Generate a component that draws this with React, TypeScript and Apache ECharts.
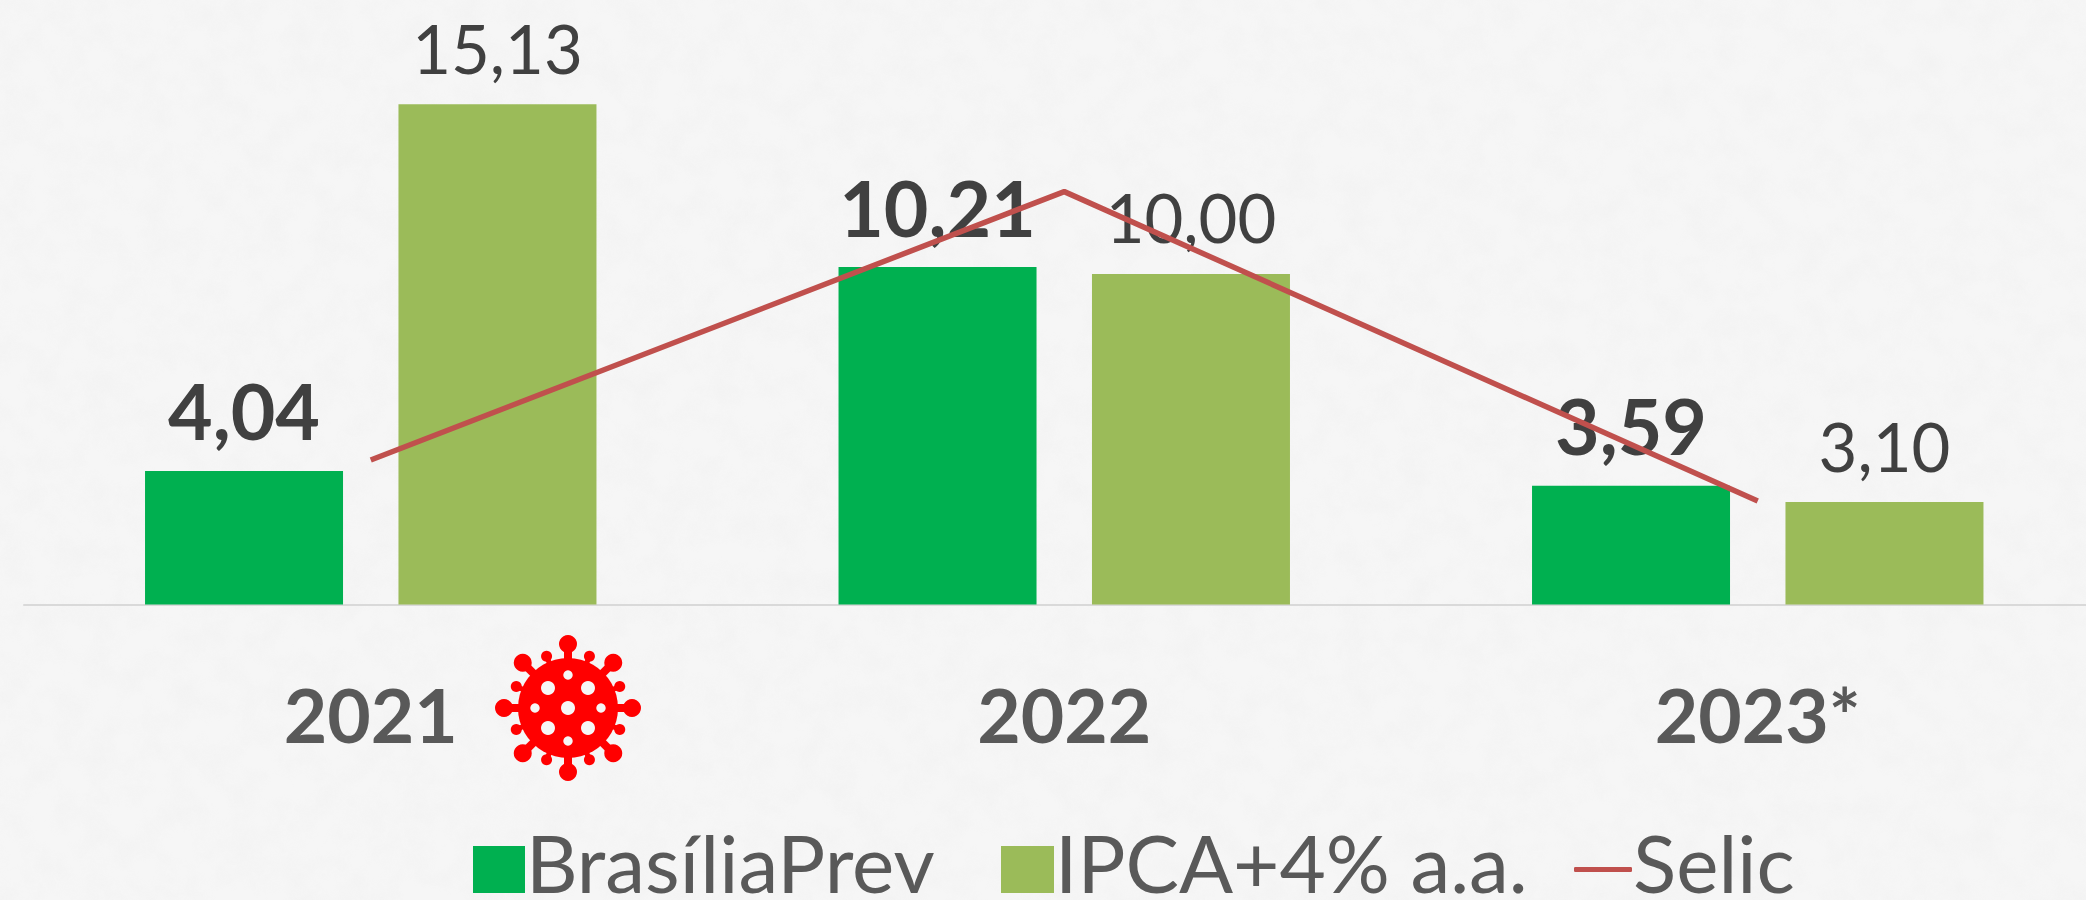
import React, { useEffect, useRef } from "react";
import * as echarts from "echarts";

const categories = ["2021", "2022", "2023*"];
const brasiliaPrev = [4.04, 10.21, 3.59];
const ipca = [15.13, 10.0, 3.1];
const selic = [4.37, 12.49, 3.13];

const BG = "#f6f6f6";
const RED = "#ff0000";
const fmt = (p: any) => String(p.value.toFixed(2)).replace(".", ",");

function virus(cx: number, cy: number) {
  const children: any[] = [];
  const circle = (x: number, y: number, r: number, fill: string) =>
    children.push({ type: "circle", x: cx + x, y: cy + y, shape: { cx: 0, cy: 0, r }, style: { fill } });
  const deg = Math.PI / 180;
  for (let a = 0; a < 360; a += 45) {
    const s = Math.sin(a * deg);
    const c = -Math.cos(a * deg);
    children.push({
      type: "line",
      shape: { x1: cx + 45 * s, y1: cy + 45 * c, x2: cx + 63 * s, y2: cy + 63 * c },
      style: { stroke: RED, lineWidth: 8 },
    });
    circle(64 * s, 64 * c, 9, RED);
    const s2 = Math.sin((a + 22.5) * deg);
    const c2 = -Math.cos((a + 22.5) * deg);
    children.push({
      type: "line",
      shape: { x1: cx + 45 * s2, y1: cy + 45 * c2, x2: cx + 56 * s2, y2: cy + 56 * c2 },
      style: { stroke: RED, lineWidth: 5 },
    });
    circle(56 * s2, 56 * c2, 5.5, RED);
  }
  circle(0, 0, 50, RED);
  circle(0, 0, 7, BG);
  [[-20, -20], [20, -20], [-20, 20], [20, 20]].forEach(([x, y]) => circle(x, y, 7, BG));
  [[0, -33], [0, 33], [-33, 0], [33, 0]].forEach(([x, y]) => circle(x, y, 4.7, BG));
  return { type: "group", children, silent: true };
}

export default function App() {
  const ref = useRef<HTMLDivElement>(null);
  useEffect(() => {
    const chart = echarts.init(ref.current!, undefined, { renderer: "svg" });
    const font = "Lato";
    const barLabel = (bold: boolean, distance: number, size: number) => ({
      show: true,
      position: "top",
      distance,
      formatter: fmt,
      fontFamily: font,
      fontSize: size,
      fontWeight: bold ? "bold" : "normal",
      color: "#404040",
    });
    const legendText = {
      fontFamily: font,
      fontSize: 80,
      color: "#595959",
      padding: [0, 0, 0, -4],
      rich: {
        a: { fontFamily: font, fontSize: 80, lineHeight: 80, color: "#595959" },
        b: { fontSize: 10, lineHeight: 16 },
      },
    };
    const legendFormatter = (name: string) => `{a|${name}}\n{b| }`;
    chart.setOption({
      animation: false,
      backgroundColor: "transparent",
      grid: { left: 24, top: 9.5, width: 2080.5, height: 595, containLabel: false },
      legend: [
        { left: 473, top: 821.5, padding: 0, formatter: legendFormatter, data: [{ name: "BrasíliaPrev", icon: "rect" }], itemWidth: 52, itemHeight: 47, textStyle: legendText },
        { left: 1001, top: 821.5, padding: 0, formatter: legendFormatter, data: [{ name: "IPCA+4% a.a.", icon: "rect" }], itemWidth: 53, itemHeight: 47, textStyle: legendText },
        { left: 1574, top: 821.5, padding: 0, formatter: legendFormatter, data: [{ name: "Selic", icon: "roundRect" }], itemWidth: 58, itemHeight: 5, textStyle: legendText },
      ],
      xAxis: {
        type: "category",
        data: categories,
        axisTick: { show: false },
        axisLine: { lineStyle: { color: "#d9d9d9", width: 2 } },
        axisLabel: { fontFamily: font, fontSize: 75, fontWeight: "bold", color: "#595959", margin: 72 },
      },
      yAxis: { type: "value", min: 0, max: 18, show: false, splitLine: { show: false } },
      series: [
        {
          name: "BrasíliaPrev",
          type: "bar",
          z: 2,
          data: brasiliaPrev,
          barWidth: 198,
          barGap: "28%",
          itemStyle: { color: "#00b050" },
          label: barLabel(true, 22, 77),
        },
        {
          name: "IPCA+4% a.a.",
          type: "bar",
          z: 2,
          data: ipca,
          barWidth: 198,
          barGap: "28%",
          itemStyle: { color: "#9bbb59" },
          label: barLabel(false, 23, 67),
        },
        {
          name: "Selic",
          type: "line",
          z: 5,
          data: selic,
          symbol: "none",
          lineStyle: { color: "#c0504d", width: 5.5 },
          itemStyle: { color: "#c0504d" },
        },
      ],
      graphic: [virus(568, 708)],
    });
    return () => chart.dispose();
  }, []);
  return (
    <div style={{ position: "absolute", left: 0, top: 0, width: 2086, height: 900, overflow: "hidden", background: BG }}>
      <svg width={2086} height={900} style={{ position: "absolute", left: 0, top: 0 }}>
        <filter id="paper">
          <feTurbulence type="fractalNoise" baseFrequency="0.035" numOctaves={4} seed={7} />
          <feColorMatrix type="matrix" values="0 0 0 0 0.6  0 0 0 0 0.6  0 0 0 0 0.6  0.35 0 0 0 -0.12" />
        </filter>
        <rect width={2086} height={900} filter="url(#paper)" opacity={0.35} />
      </svg>
      <div ref={ref} style={{ position: "absolute", left: 0, top: 0, width: 2120, height: 900 }} />
    </div>
  );
}
